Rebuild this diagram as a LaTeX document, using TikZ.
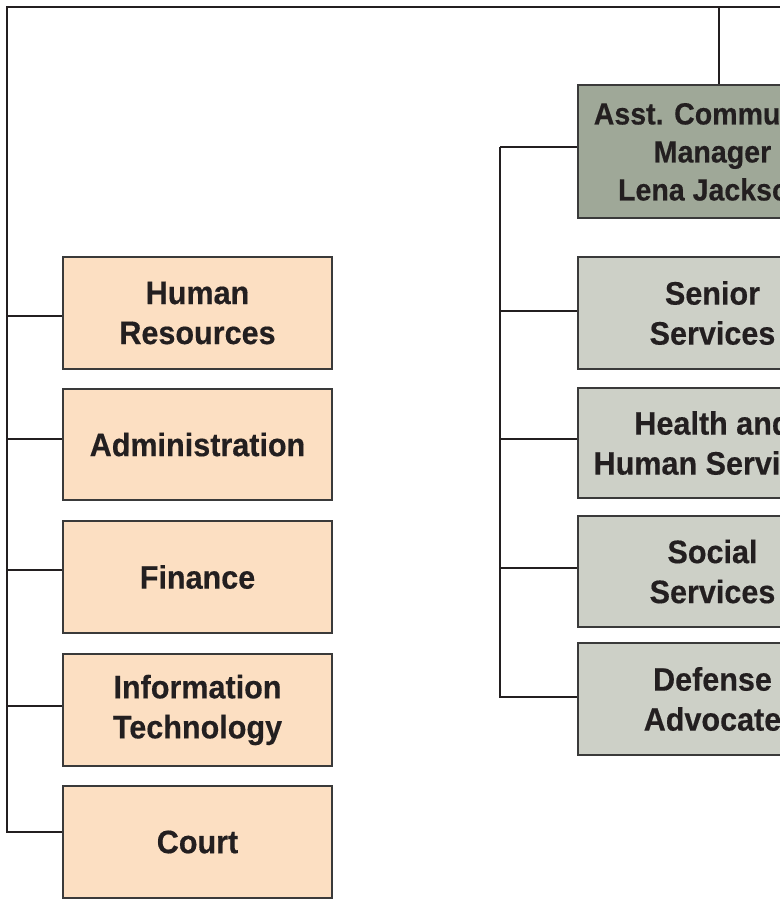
\documentclass[tikz,border=0pt]{standalone}
\usepackage{fontspec}
\setmainfont{Liberation Sans}
\newfontfamily\boxfont{Liberation Sans Bold}[FakeBold=0.4,FakeStretch=0.94]
\newfontfamily\asstfont{Liberation Sans Bold}[FakeBold=0.4,FakeStretch=0.93]
\definecolor{peach}{HTML}{FCDFC2}
\definecolor{sage}{HTML}{9FA898}
\definecolor{lgray}{HTML}{CDD0C7}
\definecolor{ink}{HTML}{231F20}
\definecolor{edge}{HTML}{3A3A3A}
\begin{document}
\begin{tikzpicture}[x=1pt,y=-1pt,
  box/.style={draw=edge,line width=1.3pt,minimum width=269pt,inner sep=0pt,align=center,
    text=ink,font=\fontsize{32.5}{40}\boxfont},
  lbox/.style={box,fill=peach},
  gbox/.style={box,fill=lgray},
  link/.style={draw=ink,line width=2.3pt}]
\useasboundingbox (0,0) rectangle (779,907);
% left boxes
\node[lbox,minimum height=112pt] (hr) at (197.5,313) {Human\\Resources};
\node[lbox,minimum height=111pt] (adm) at (197.5,444.5) {Administration};
\node[lbox,minimum height=112pt] (fin) at (197.5,577) {Finance};
\node[lbox,minimum height=112pt] (it) at (197.5,710) {Information\\Technology};
\node[lbox,minimum height=112pt] (court) at (197.5,842) {Court};
% right boxes
\node[box,fill=sage,minimum height=133pt,font=\fontsize{30.7}{38}\asstfont] (asst) at (712.5,151.5) {Asst. Community\\Manager\\Lena Jackson};
\node[gbox,minimum height=112pt] (sen) at (712.5,313) {Senior\\Services};
\node[gbox,minimum height=110pt] (hhs) at (712.5,443) {Health and\\Human Services};
\node[gbox,minimum height=111pt] (soc) at (712.5,571.5) {Social\\Services};
\node[gbox,minimum height=112pt] (def) at (712.5,699) {Defense\\Advocate};
% connectors
\coordinate (tl) at (7,7);
\coordinate (tr) at (790,7);
\coordinate (lb) at (7,832);
\coordinate (vtop) at (719,7);
\coordinate (rt) at (500,147);
\coordinate (rb) at (500,697);
\draw[link] (tr) -- (tl) -- (lb) -- (court.west |- lb);
\draw[link] (vtop) -- (asst.north -| vtop);
\draw[link] (7,316) -- (hr.west |- 0,316);
\draw[link] (7,439) -- (adm.west |- 0,439);
\draw[link] (7,570) -- (fin.west |- 0,570);
\draw[link] (7,706) -- (it.west |- 0,706);
\draw[link] (rt) -- (rb) -- (def.west |- rb);
\draw[link] (rt) -- (asst.west |- rt);
\draw[link] (500,311) -- (sen.west |- 0,311);
\draw[link] (500,439) -- (hhs.west |- 0,439);
\draw[link] (500,568) -- (soc.west |- 0,568);
\end{tikzpicture}
\end{document}
